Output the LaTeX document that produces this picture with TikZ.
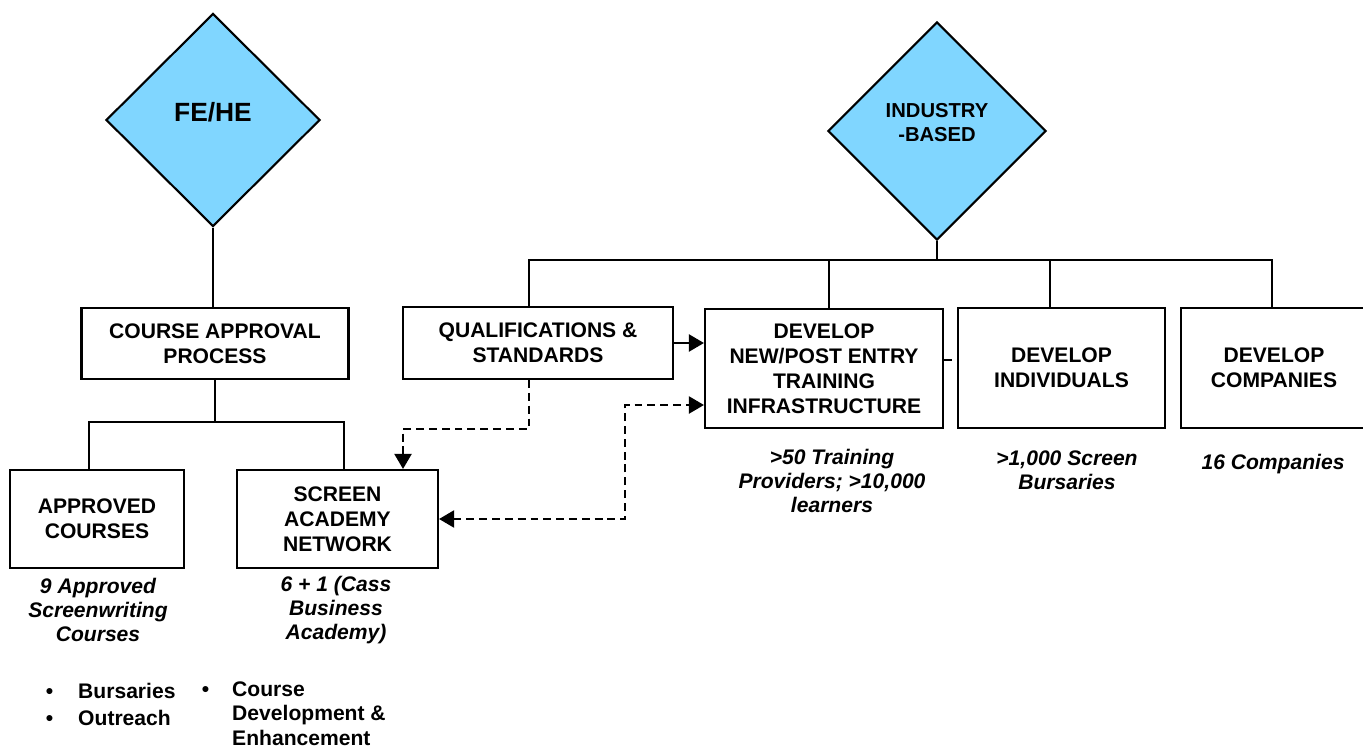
\documentclass[tikz,border=0pt]{standalone}
\usepackage{fontspec}
\setmainfont{Liberation Sans}
\usetikzlibrary{shapes,arrows.meta}
\definecolor{skyfill}{RGB}{128,214,255}

\begin{document}
\begin{tikzpicture}[boxnode/.style={shape=rectangle,draw=black,align=center,line width=1.2pt,inner sep=0pt,font=\bfseries\fontsize{12}{14.2}\selectfont},
diam/.style={shape=diamond,draw=black,fill=skyfill,line width=1.2pt,inner sep=0pt},
note/.style={align=center,inner sep=0pt,font=\bfseries\itshape\fontsize{12}{13.8}\selectfont},
link/.style={-,draw=black,line width=1.2pt},
dashlink/.style={link,dash pattern=on 4.5pt off 2.8pt},
headed/.style={-{Triangle[length=3mm,width=3.4mm]}}]
\useasboundingbox (0,0) rectangle (27.26,14.94);

\node[diam,minimum width=4.28cm,minimum height=4.26cm,label={[font=\bfseries\fontsize{15}{17}\selectfont,yshift=1.6mm]center:FE/HE}] (fehe) at (4.26,12.54) {};
\node[diam,minimum width=4.36cm,minimum height=4.36cm,label={[align=center,font=\bfseries\fontsize{11.5}{13.7}\selectfont,yshift=1.6mm]center:INDUSTRY\\-BASED}] (ind) at (18.74,12.32) {};

\node[boxnode,minimum width=5.34cm,minimum height=1.42cm] (cap) at (4.30,8.07) {COURSE APPROVAL\\PROCESS};
\node[boxnode,minimum width=3.48cm,minimum height=1.96cm] (appr) at (1.94,4.56) {APPROVED\\COURSES};
\node[boxnode,minimum width=4.02cm,minimum height=1.96cm] (san) at (6.75,4.56) {SCREEN\\ACADEMY\\NETWORK};
\node[boxnode,minimum width=5.40cm,minimum height=1.44cm] (qs) at (10.76,8.08) {QUALIFICATIONS \&\\STANDARDS};
\node[boxnode,minimum width=4.76cm,minimum height=2.38cm] (dn) at (16.48,7.57) {DEVELOP\\NEW/POST ENTRY\\TRAINING\\INFRASTRUCTURE};
\node[boxnode,minimum width=4.14cm,minimum height=2.40cm] (di) at (21.23,7.58) {DEVELOP\\INDIVIDUALS};
\node[boxnode,minimum width=3.72cm,minimum height=2.40cm] (dc) at (25.48,7.58) {DEVELOP\\COMPANIES};

\node[note] (apprnote) at (1.96,2.74) {9 Approved\\Screenwriting\\Courses};
\node[note] (sannote) at (6.72,2.74) {6 + 1 (Cass\\Business\\Academy)};
\node[note] (dnnote) at (16.64,5.32) {>50 Training\\Providers; >10,000\\learners};
\node[note] (dinote) at (21.34,5.54) {>1,000 Screen\\Bursaries};
\node[note] (dcnote) at (25.46,5.66) {16 Companies};

\node[anchor=west,inner sep=0pt,font=\bfseries\fontsize{12}{15.4}\selectfont] (blist) at (0.91,0.81) {\begin{tabular}{@{}l@{\hspace{0.5cm}}l@{}}\textbullet&Bursaries\\\textbullet&Outreach\end{tabular}};
\node[anchor=west,inner sep=0pt,font=\bfseries\fontsize{12}{13.8}\selectfont] (clist) at (4.03,0.62) {\begin{tabular}{@{}l@{\hspace{0.46cm}}l@{}}\textbullet&Course\\&Development \&\\&Enhancement\end{tabular}};

\coordinate (la) at (1.78,6.5);
\coordinate (lb) at (6.88,6.5);
\coordinate (b1) at (10.58,9.74);
\coordinate (b2) at (16.58,9.74);
\coordinate (b3) at (21.0,9.74);
\coordinate (b4) at (25.44,9.74);
\coordinate (q1) at (8.06,6.36);
\coordinate (q2) at (12.5,6.84);

\path [link] (fehe.south) edge (fehe.south |- cap.north);
\path [link] (cap.south) edge (cap.south |- la);
\draw [link] (la |- appr.north) -- (la) -- (lb) -- (lb |- san.north);
\path [link] (ind.south) edge (ind.south |- b1);
\draw [link] (b1 |- qs.north) -- (b1) -- (b4) -- (b4 |- dc.north);
\path [link] (b2) edge (b2 |- dn.north);
\path [link] (b3) edge (b3 |- di.north);
\draw [link,headed] (qs.east) -- (qs.east -| dn.west);
\draw [dashlink,headed] (b1 |- qs.south) |- (q1) -- (q1 |- san.north);
\draw [dashlink,{Triangle[length=3mm,width=3.4mm]}-{Triangle[length=3mm,width=3.4mm]}] (san.east) -| (q2) -- (q2 -| dn.west);
\path [dashlink] ([yshift=1.7mm]dn.east) edge ([yshift=1.7mm]dn.east -| di.west);
\end{tikzpicture}
\end{document}
